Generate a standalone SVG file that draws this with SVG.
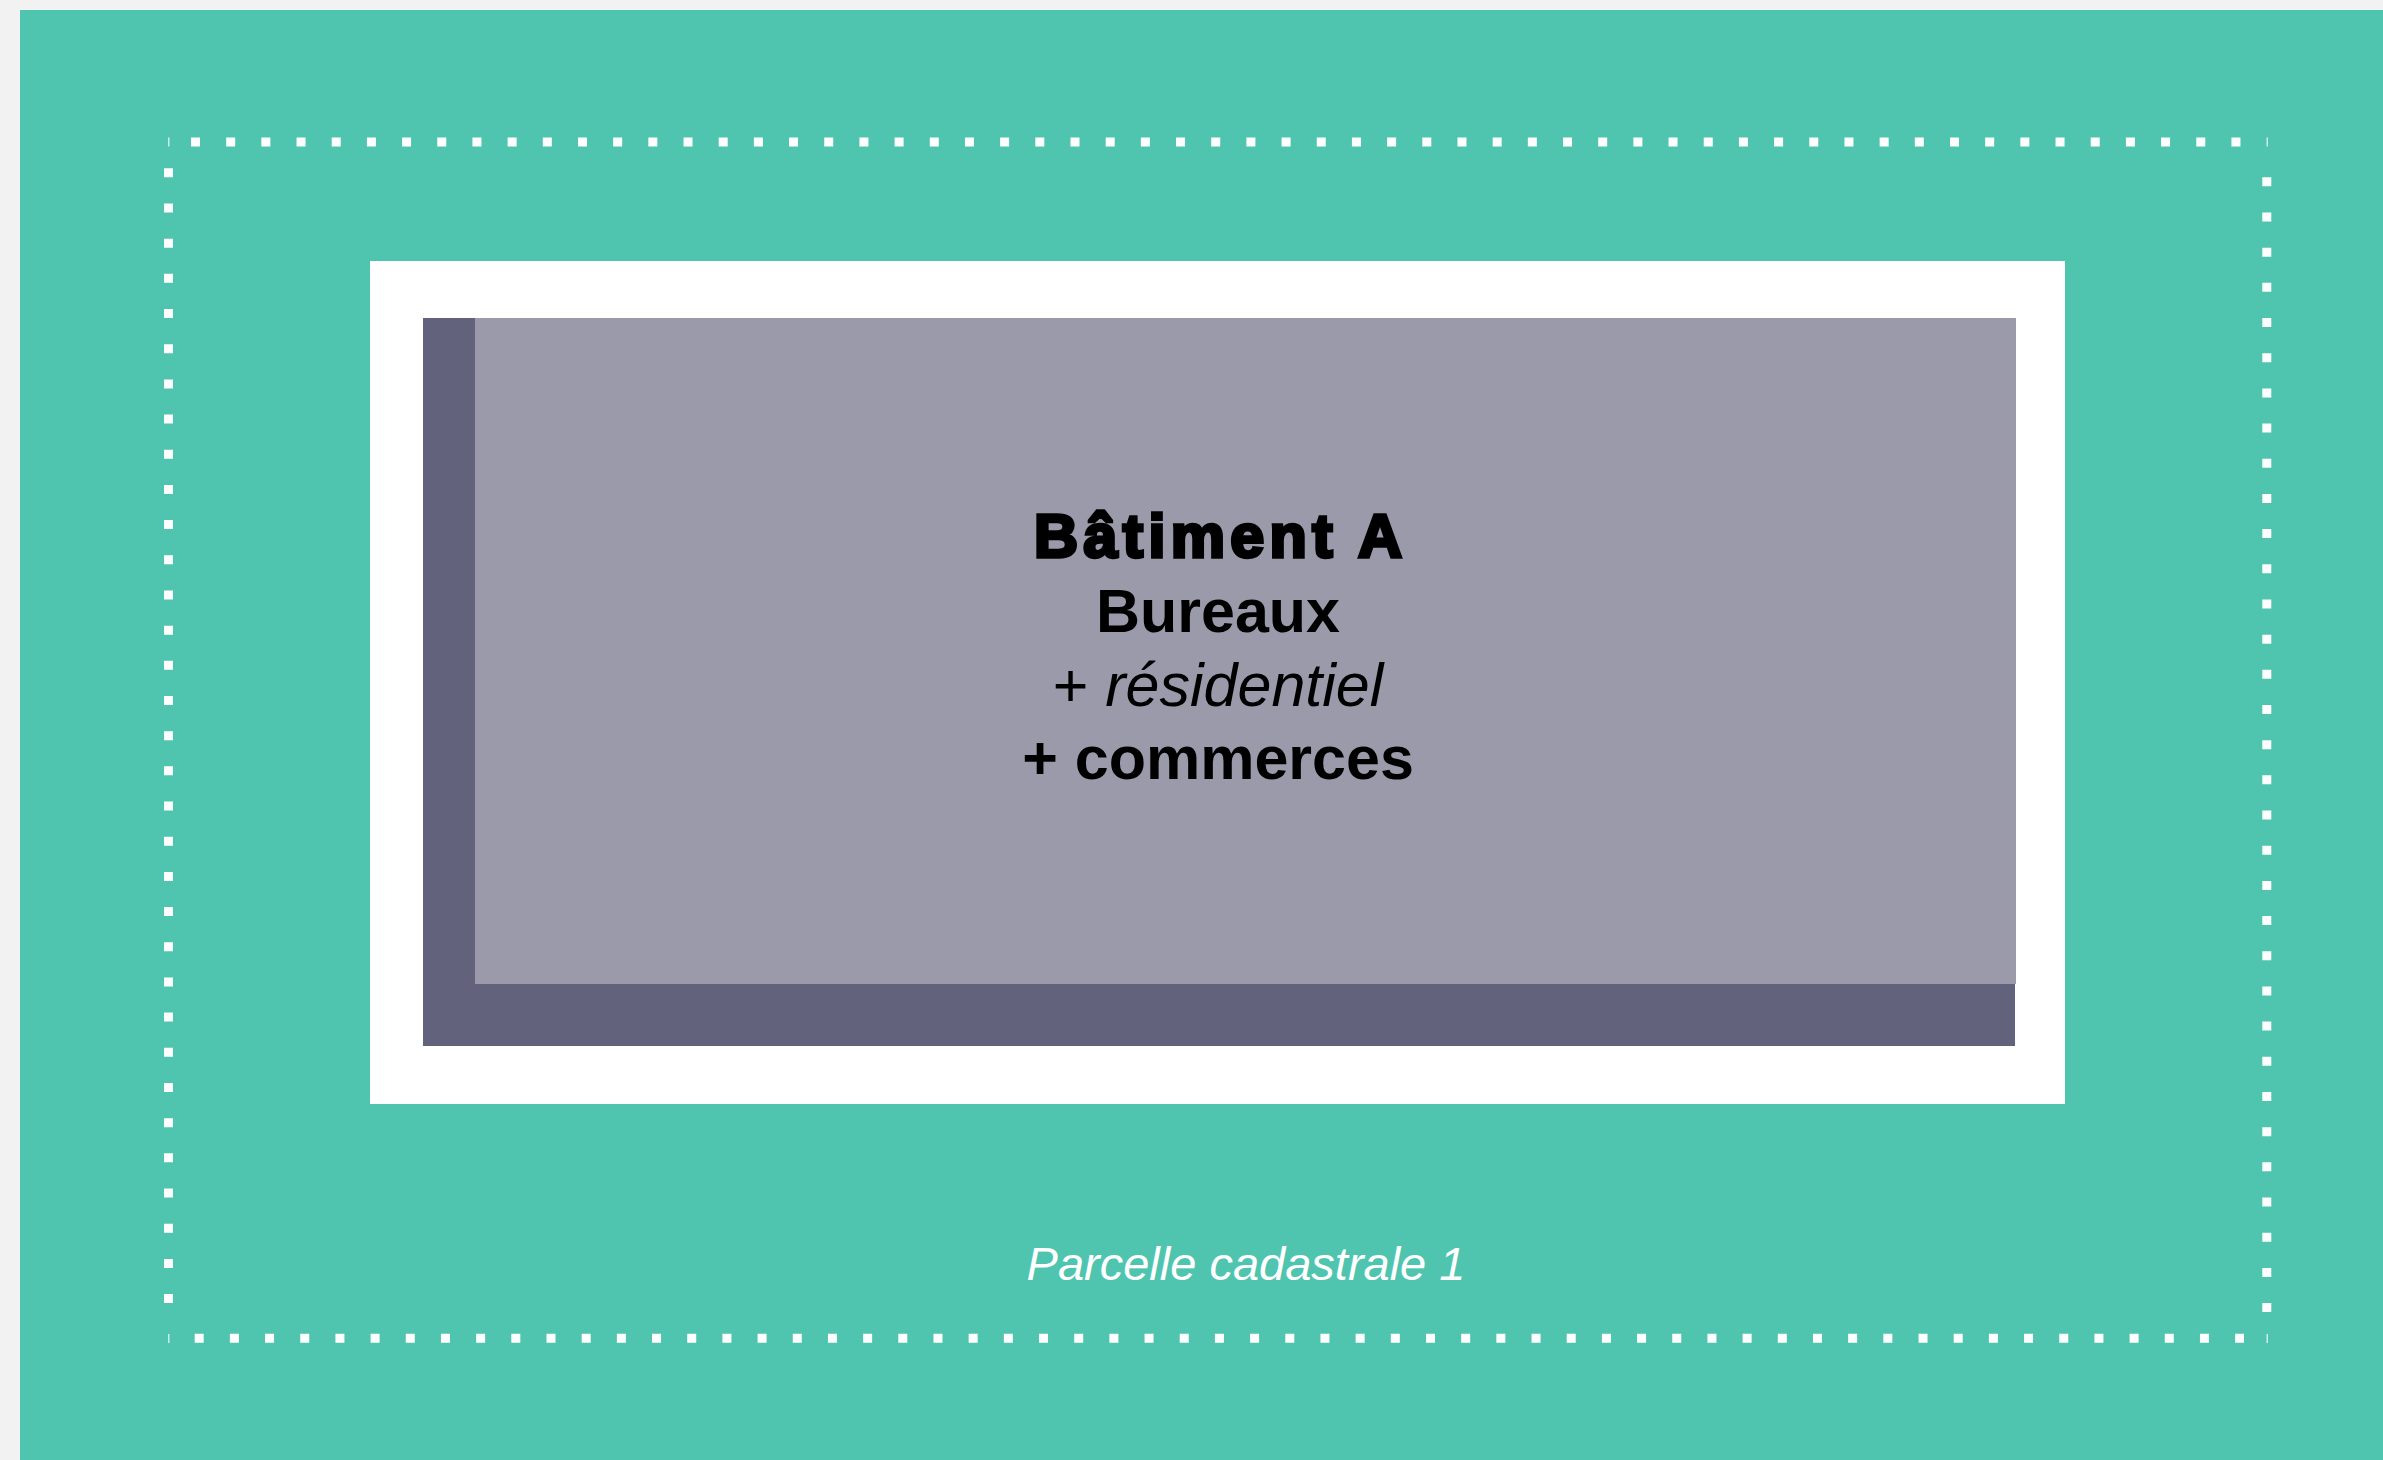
<svg xmlns="http://www.w3.org/2000/svg" width="2383" height="1460" viewBox="0 0 2383 1460">
  <style>
    .dots { stroke: #ffffff; stroke-width: 9; stroke-dasharray: 9 26.18; fill: none; }
    .sliver { fill: #ffffff; opacity: 0.7; }
    .t { font-family: "Liberation Sans", Arial, sans-serif; fill: #000000; text-anchor: middle; font-size: 61px; }
    .b { font-weight: bold; }
    .i { font-style: italic; }
  </style>
  <rect x="0" y="0" width="2383" height="1460" fill="#f2f2f2"/>
  <g id="parcelle">
    <rect x="20" y="10" width="2363" height="1450" fill="#4fc5af"/>
    <g id="limite-parcelle">
      <line class="dots" x1="191" y1="142" x2="2241" y2="142"/>
      <line class="dots" x1="168.5" y1="168.3" x2="168.5" y2="1303.1"/>
      <line class="dots" x1="2266.8" y1="177.3" x2="2266.8" y2="1312.1"/>
      <line class="dots" x1="194.7" y1="1338.3" x2="2244" y2="1338.3"/>
      <rect class="sliver" x="168" y="137.5" width="1.5" height="9"/>
      <rect class="sliver" x="2266.5" y="137.5" width="1.5" height="9"/>
      <rect class="sliver" x="168" y="1334" width="1.5" height="9"/>
      <rect class="sliver" x="2266.5" y="1334" width="1.5" height="9"/>
    </g>
    <text x="1246" y="1280" font-family="'Liberation Sans', Arial, sans-serif" font-size="47" font-style="italic" fill="#ffffff" text-anchor="middle">Parcelle cadastrale 1</text>
  </g>
  <g id="batiment-a">
    <rect x="370" y="261" width="1695" height="843" fill="#ffffff"/>
    <rect x="423" y="318" width="1592" height="728" fill="#62627c"/>
    <rect x="475" y="318" width="1541" height="666" fill="#9b9aab"/>
    <text class="t b" x="1218" y="557" stroke="#000000" stroke-width="3.5" textLength="368" lengthAdjust="spacing">Bâtiment A</text>
    <text class="t b" x="1218" y="632">Bureaux</text>
    <text class="t" x="1218" y="706">+ <tspan class="i">résidentiel</tspan></text>
    <text class="t b" x="1218" y="779">+ commerces</text>
  </g>
</svg>
